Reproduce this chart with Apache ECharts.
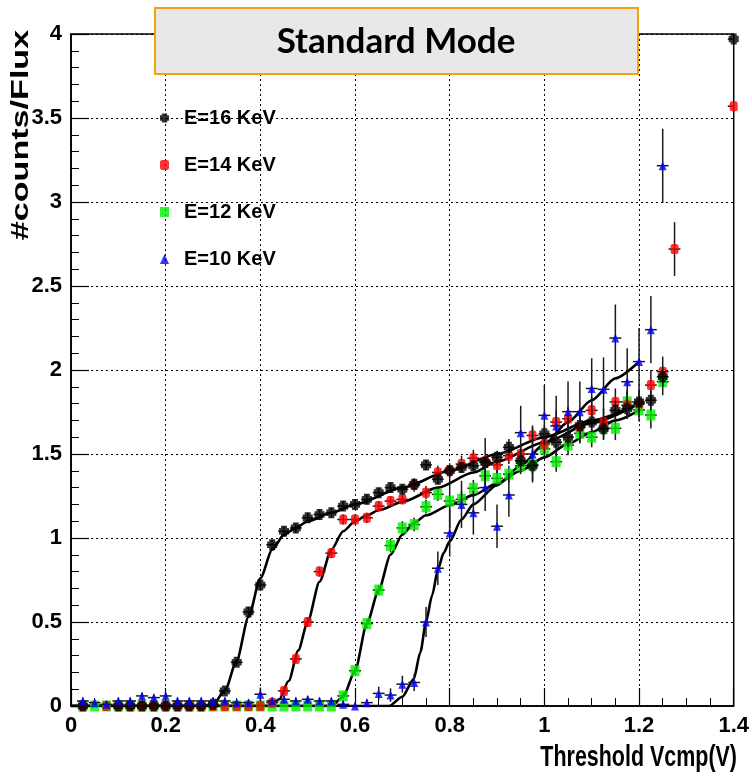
<!DOCTYPE html>
<html><head><meta charset="utf-8">
<script src="https://cdn.jsdelivr.net/npm/echarts@6/dist/echarts.min.js"></script>
<style>html,body{margin:0;padding:0;background:#fff}#c{width:752px;height:777px}</style>
</head><body><div id="c"></div>
<script>
// ---- data ----
const xVals = [0.025,0.05,0.075,0.1,0.125,0.15,0.175,0.2,0.225,0.25,0.275,0.3,0.325,0.35,0.375,0.4,0.425,0.45,0.475,0.5,
  0.525,0.55,0.575,0.6,0.625,0.65,0.675,0.7,0.725,0.75,0.775,0.8,0.825,0.85,0.875,0.9,0.925,0.95,0.975,1.0,
  1.025,1.05,1.075,1.1,1.125,1.15,1.175,1.2,1.225,1.25];
const xErr = 0.0125;

const y16 = [0,null,null,0,0,0,0,0,0,0,0,0.01,0.09,0.26,0.56,0.72,0.96,1.04,1.06,1.12,
  1.14,1.15,1.19,1.2,1.23,1.27,1.3,1.29,1.32,1.435,1.35,1.4,1.42,1.43,1.45,1.48,1.54,1.46,1.43,1.62,
  1.57,1.6,1.67,1.69,1.65,1.76,1.77,1.81,1.82,1.96];
const e16 = [0.005,0.005,0.005,0.005,0.005,0.005,0.005,0.005,0.005,0.005,0.005,0.01,0.02,0.02,0.03,0.03,0.03,0.03,0.03,0.03,
  0.03,0.03,0.03,0.03,0.03,0.03,0.03,0.03,0.03,0.03,0.03,0.03,0.03,0.03,0.03,0.04,0.05,0.06,0.1,0.05,
  0.05,0.06,0.06,0.06,0.06,0.06,0.06,0.06,0.06,0.06];
const x16Extra = [1.4], y16Extra = [3.97], e16Extra = [0];

const y14 = [0,null,0,0,0,0,0,0,0,0,0,0,0,0,0,0,0.02,0.09,0.28,0.5,
  0.8,0.91,1.11,1.11,1.12,1.19,1.22,1.23,1.315,1.27,1.39,1.405,1.44,1.475,1.455,1.435,1.49,1.5,1.61,1.56,
  1.69,1.71,1.66,1.76,1.69,1.81,1.79,1.8,1.91,1.99];
const e14 = [0.005,0.005,0.005,0.005,0.005,0.005,0.005,0.005,0.005,0.005,0.005,0.005,0.005,0.005,0.005,0.005,0.01,0.02,0.02,0.03,
  0.03,0.03,0.03,0.03,0.03,0.03,0.03,0.03,0.04,0.04,0.04,0.04,0.05,0.05,0.14,0.05,0.05,0.06,0.06,0.06,
  0.07,0.07,0.07,0.08,0.08,0.08,0.08,0.08,0.09,0.09];
const x14Extra = [1.275,1.4], y14Extra = [2.72,3.57], e14Extra = [0.16,0];

const y12 = [0,0,0,0,0,0,0,0,0,0,0,0,0,0,0,0,0,0,0,0,
  0,0,0.06,0.21,0.49,0.69,0.955,1.06,1.08,1.186,1.26,1.22,1.23,1.296,1.37,1.355,1.38,1.43,1.435,1.53,
  1.454,1.553,1.623,1.6,1.653,1.653,1.81,1.762,1.732,1.93];
const e12 = [0.005,0.005,0.005,0.005,0.005,0.005,0.005,0.005,0.005,0.005,0.005,0.005,0.005,0.005,0.005,0.005,0.005,0.005,0.005,0.005,
  0.005,0.005,0.02,0.02,0.03,0.03,0.04,0.04,0.04,0.04,0.04,0.16,0.05,0.05,0.05,0.05,0.05,0.05,0.05,0.06,
  0.06,0.06,0.06,0.06,0.07,0.07,0.07,0.07,0.08,0.08];

const y10 = [0.03,0.02,0.01,0.03,0.03,0.06,0.05,0.06,0.03,0.03,0.03,0.03,0.03,0.02,0.02,0.07,0.03,0.04,0.03,0.04,
  0.03,0.03,0.01,0.0,0.02,0.075,0.065,0.13,0.14,0.5,0.82,1.03,1.2,1.15,1.3,1.07,1.256,1.627,1.5,1.73,
  1.667,1.752,1.752,1.89,1.885,2.19,1.93,2.05,2.24,3.216];
const e10 = [0.02,0.02,0.02,0.02,0.02,0.02,0.02,0.02,0.02,0.02,0.02,0.02,0.02,0.02,0.02,0.04,0.02,0.02,0.02,0.02,
  0.02,0.02,0.02,0.02,0.02,0.04,0.04,0.05,0.05,0.09,0.1,0.14,0.14,0.13,0.14,0.13,0.13,0.16,0.16,0.18,
  0.18,0.18,0.18,0.18,0.19,0.2,0.2,0.2,0.2,0.22];

// fit curves
const fit16X = [0,0.28,0.3,0.325,0.35,0.375,0.4,0.425,0.45,0.475,0.5,0.55,0.6,0.7,0.8,0.9,1.0,1.1,1.2];
const fit16Y = [0,0,0.01,0.09,0.27,0.53,0.76,0.93,1.02,1.06,1.1,1.15,1.2,1.3,1.4,1.5,1.6,1.7,1.8];
const fit14X = [0,0.42,0.44,0.46,0.48,0.5,0.525,0.55,0.575,0.6,0.625,0.65,0.7,0.775,0.85,0.9,1.0,1.1,1.2];
const fit14Y = [0,0,0.04,0.15,0.33,0.5,0.74,0.93,1.04,1.1,1.135,1.165,1.215,1.3,1.39,1.455,1.57,1.685,1.8];
const fit12X = [0,0.55,0.575,0.6,0.625,0.65,0.675,0.7,0.725,0.75,0.8,0.85,0.9,0.95,1.0,1.05,1.1,1.15,1.2];
const fit12Y = [0,0,0.055,0.21,0.49,0.69,0.9,1.02,1.09,1.135,1.195,1.255,1.325,1.4,1.48,1.56,1.63,1.7,1.76];
const fit10X = [0,0.672,0.7,0.724,0.738,0.75,0.763,0.775,0.787,0.8,0.825,0.85,0.9,0.95,1.0,1.05,1.1,1.15,1.2];
const fit10Y = [0,0,0.055,0.16,0.32,0.5,0.66,0.81,0.91,0.98,1.11,1.2,1.315,1.43,1.56,1.69,1.82,1.95,2.05];

const seriesNames = ['E=16 KeV','E=14 KeV','E=12 KeV','E=10 KeV'];
const xTicks = [0,0.2,0.4,0.6,0.8,1,1.2,1.4];
const yTicks = [0,0.5,1,1.5,2,2.5,3,3.5,4];

// ---- helpers ----
function pts(xs, ys, es){ const out=[]; xs.forEach((x,i)=>{ if(ys[i]!==null) out.push(es?[x,ys[i],es[i]]:[x,ys[i]]); }); return out; }
function zip(xs, ys){ return xs.map((x,i)=>[x,ys[i]]); }

const FONT = '"Liberation Sans",Arial,sans-serif';
const ebColor = '#1a1a1a';

function errSeries(data, z){
  return { type:'custom', silent:true, z:z, clip:true, data:data,
    renderItem:function(params, api){
      const x=api.value(0), y=api.value(1), e=api.value(2);
      const c=api.coord([x,y]); const t=api.coord([x,y+e]); const b=api.coord([x,y-e]);
      const l=api.coord([x-xErr,y]); const r=api.coord([x+xErr,y]);
      return {type:'group', children:[
        {type:'line', shape:{x1:c[0],y1:t[1],x2:c[0],y2:b[1]}, style:{stroke:ebColor,lineWidth:1.5}},
        {type:'line', shape:{x1:l[0],y1:c[1],x2:r[0],y2:c[1]}, style:{stroke:ebColor,lineWidth:1.5}}
      ]};
    }};
}
function fitSeries(xs, ys){
  return { type:'line', data:zip(xs,ys), symbol:'none', smooth:0.25, smoothMonotone:'x', silent:true,
    lineStyle:{color:'#000', width:2.6}, z:2 };
}
const blobPath = 'path://M2,0 L8,0 L8,2 L10,2 L10,8 L8,8 L8,10 L2,10 L2,8 L0,8 L0,2 L2,2 Z';

const s16 = pts(xVals,y16).concat(zip(x16Extra,y16Extra));
const s14 = pts(xVals,y14).concat(zip(x14Extra,y14Extra));
const s12 = pts(xVals,y12);
const s10 = pts(xVals,y10);
const eb16 = pts(xVals,y16,e16).concat(x16Extra.map((x,i)=>[x,y16Extra[i],e16Extra[i]]));
const eb14 = pts(xVals,y14,e14).concat(x14Extra.map((x,i)=>[x,y14Extra[i],e14Extra[i]]));
const eb12 = pts(xVals,y12,e12);
const eb10 = pts(xVals,y10,e10);

const chart = echarts.init(document.getElementById('c'), null, {renderer:'canvas'});
const axisLabelStyle = {color:'#000', fontFamily:FONT, fontWeight:'bold', fontSize:22};

chart.setOption({
  animation:false,
  backgroundColor:'#fff',
  grid:{left:71, right:16, top:34, bottom:71, show:true, borderColor:'#000', borderWidth:1.5, backgroundColor:'transparent'},
  xAxis:{type:'value', min:xTicks[0], max:xTicks[xTicks.length-1], interval:0.2,
    axisLine:{show:true, lineStyle:{color:'#000', width:1.5}},
    axisTick:{show:true, inside:true, length:18, lineStyle:{color:'#000', width:1.2}},
    minorTick:{show:true, splitNumber:4, length:8, lineStyle:{color:'#000', width:1}},
    splitLine:{show:true, lineStyle:{color:'#000', type:[2,3], width:1}},
    axisLabel:Object.assign({margin:9}, axisLabelStyle)},
  yAxis:{type:'value', min:yTicks[0], max:yTicks[yTicks.length-1], interval:0.5,
    axisLine:{show:true, lineStyle:{color:'#000', width:1.5}},
    axisTick:{show:true, inside:true, length:18, lineStyle:{color:'#000', width:1.2}},
    minorTick:{show:true, splitNumber:5, length:8, lineStyle:{color:'#000', width:1}},
    splitLine:{show:true, lineStyle:{color:'#000', type:[2,3], width:1}},
    axisLabel:Object.assign({margin:9}, axisLabelStyle)},
  legend:{show:true, orient:'vertical', left:155, top:103, itemWidth:9, itemHeight:10, itemGap:27,
    selectedMode:false, data:seriesNames,
    textStyle:{color:'#000', fontFamily:FONT, fontWeight:'bold', fontSize:20, padding:[0,0,0,10]}},
  series:[
    fitSeries(fit16X,fit16Y), fitSeries(fit14X,fit14Y), fitSeries(fit12X,fit12Y), fitSeries(fit10X,fit10Y),
    errSeries(eb12,3), {name:seriesNames[2], type:'scatter', data:s12, symbol:'rect', symbolSize:[9,11], itemStyle:{color:'#00ee00'}, z:4},
    errSeries(eb14,5), {name:seriesNames[1], type:'scatter', data:s14, symbol:'roundRect', symbolSize:[8,10], itemStyle:{color:'#ff0000'}, z:6},
    errSeries(eb16,7), {name:seriesNames[0], type:'scatter', data:s16, symbol:blobPath, symbolSize:[10,11], itemStyle:{color:'#000'}, z:8},
    errSeries(eb10,9), {name:seriesNames[3], type:'scatter', data:s10, symbol:'triangle', symbolSize:[8,9], itemStyle:{color:'#0000ff'}, z:10}
  ],
  graphic:[
    {type:'rect', shape:{x:155, y:8, width:483, height:66}, style:{fill:'#e8e8e8', stroke:'#f0a30a', lineWidth:2}, z:100},
    {type:'text', x:396, y:42, style:{text:'Standard Mode', font:'bold 35px Lato, "Open Sans", sans-serif', fill:'#000', align:'center', verticalAlign:'middle'}, z:101},
    {type:'text', x:22, y:135, rotation:Math.PI/2, scaleX:1.55, scaleY:1.05, style:{text:'#counts/Flux', font:'bold 22px '+FONT, fill:'#000', align:'center', verticalAlign:'middle'}, z:101},
    {type:'text', x:737, y:758, scaleX:0.975, scaleY:1.35, style:{text:'Threshold Vcmp(V)', font:'bold 22px '+FONT, fill:'#000', align:'right', verticalAlign:'middle'}, z:101}
  ]
});
</script></body></html>
